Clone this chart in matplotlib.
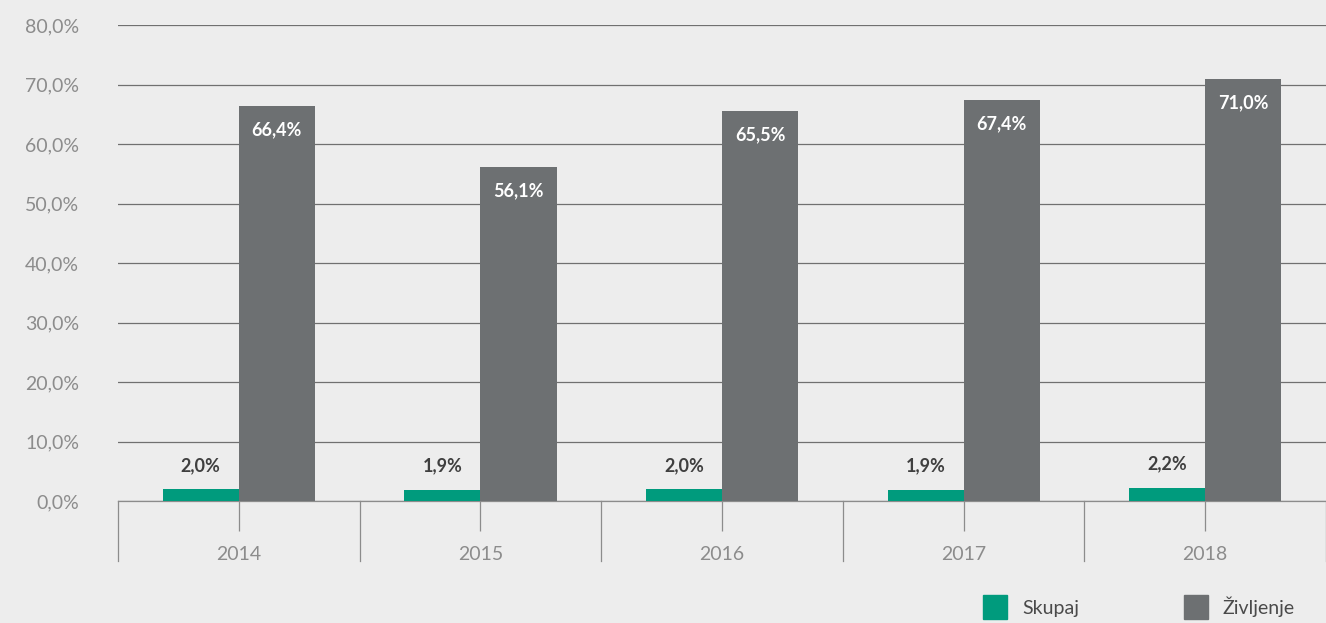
import numpy as np
import matplotlib
matplotlib.use("Agg")
import matplotlib.pyplot as plt
from matplotlib.lines import Line2D
import matplotlib.transforms as mtransforms

plt.rcParams['font.family'] = ['Lato', 'DejaVu Sans']

years = ['2014', '2015', '2016', '2017', '2018']
skupaj = [2.0, 1.9, 2.0, 1.9, 2.2]
zivljenje = [66.4, 56.1, 65.5, 67.4, 71.0]

green = '#009b7d'
grey = '#6d7072'
bg = '#ededed'
txt = '#8c8c8c'

fig = plt.figure(figsize=(13.26, 6.23), dpi=100, facecolor=bg)
ax = fig.add_axes([0.089, 0.1958, 0.911, 0.764], facecolor=bg)

x = np.arange(len(years))
w = 0.315
ax.bar(x - w / 2, skupaj, w, color=green, zorder=3)
ax.bar(x + w / 2, zivljenje, w, color=grey, zorder=3)

for xi, v in zip(x, skupaj):
    ax.annotate(f'{v:.1f}%'.replace('.', ','), (xi - w / 2, v), xytext=(0, 11),
                textcoords='offset points', ha='center', va='bottom',
                fontsize=13, fontweight='bold', color='#3f3f3f')
for xi, v in zip(x, zivljenje):
    ax.annotate(f'{v:.1f}%'.replace('.', ','), (xi + w / 2, v), xytext=(0, -11),
                textcoords='offset points', ha='center', va='top',
                fontsize=13, fontweight='bold', color='white')

ax.set_xlim(-0.5, len(years) - 0.5)
ax.set_ylim(0, 80)
yt = np.arange(0, 81, 10)
ax.set_yticks(yt)
ax.set_yticklabels([f'{t:.1f}%'.replace('.', ',') for t in yt])
ax.yaxis.grid(True, color='#707070', linewidth=0.9, zorder=0)
ax.tick_params(axis='y', length=0, pad=28, labelsize=14, labelcolor=txt)

ax.set_xticks(x)
ax.set_xticklabels(years)
ax.tick_params(axis='x', length=21.6, width=0.9, color=txt, pad=11,
               labelsize=14, labelcolor=txt)

for s in ['top', 'right', 'left']:
    ax.spines[s].set_visible(False)
ax.spines['bottom'].set_color(txt)
ax.spines['bottom'].set_linewidth(0.9)

# category separators below the axis
trans = mtransforms.blended_transform_factory(ax.transData, ax.transAxes)
for sx in np.arange(-0.5, len(years), 1.0):
    ax.plot([sx, sx], [0, -0.126], transform=trans, color=txt,
            linewidth=0.9, clip_on=False)

handles = [Line2D([], [], linestyle='none', marker='s', markersize=17,
                  markerfacecolor=green, markeredgecolor=green, label='Skupaj'),
           Line2D([], [], linestyle='none', marker='s', markersize=17,
                  markerfacecolor=grey, markeredgecolor=grey, label='Življenje')]
fig.legend(handles=handles, loc='lower right', bbox_to_anchor=(0.981, 0.0),
           ncol=2, frameon=False, fontsize=14, handlelength=1.2,
           handletextpad=0.8, columnspacing=5.4, borderaxespad=0.0,
           borderpad=0.3, labelcolor='#4a4a4a')

fig.savefig('out.png', dpi=100, facecolor=bg)
